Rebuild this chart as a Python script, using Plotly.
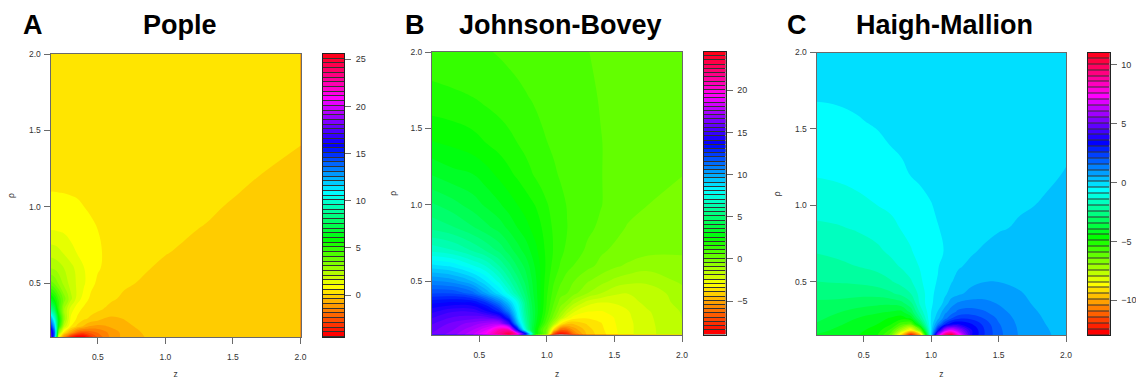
import colorsys
import plotly.graph_objects as go

W, H = 1136, 379

# ---------- Panel A: Pople ----------
pople_z = [.15, .18, .21, .25, .3, .35, .4, .45, .5, .55, .6, .7, .85, 1.0, 1.3, 1.6, 2.0]
pople_rho = [.15, .18, .22, .27, .33, .4, .5, .6, .7, .85, 1.0, 1.1, 1.2, 1.4, 1.7, 2.0]
pople_values = [
    [19, 13, .8, -1.5, -3.5, -4.4, -4.4, -3.2, -2.4, -1.8, -1.3, -.75, -.44, -.33, -.3, -.3, -.3],
    [17.5, 14, 3, .3, -1.0, -2.2, -2.5, -2.2, -1.9, -1.6, -1.25, -.75, -.38, -.33, -.33, -.33, -.33],
    [15.5, 12, 5.5, 2, .55, -.1, -.55, -1.0, -1.1, -1.0, -.85, -.55, -.32, -.33, -.35, -.36, -.35],
    [13, 10, 6, 2.9, .95, .45, .12, -.05, -.2, -.48, -.55, -.43, -.36, -.37, -.39, -.38, -.36],
    [9, 7.5, 4.8, 2.6, 1.3, .72, .4, .22, .12, .02, -.12, -.22, -.3, -.33, -.38, -.38, -.35],
    [6.2, 5.5, 4.5, 3.3, 2.2, 1.3, .8, .42, .3, .22, .12, -.05, -.2, -.3, -.35, -.35, -.33],
    [3.8, 3.5, 3.0, 2.4, 1.85, 1.45, 1.1, .7, .45, .35, .28, .12, -.02, -.12, -.25, -.3, -.3],
    [2.55, 2.45, 2.3, 2.05, 1.75, 1.35, 1.05, .85, .6, .48, .4, .25, .09, -.05, -.18, -.25, -.25],
    [1.85, 1.8, 1.7, 1.5, 1.2, 1.02, .85, .72, .6, .52, .42, .3, .15, .07, -.12, -.18, -.2],
    [1.05, 1.04, 1.0, .97, .9, .82, .72, .62, .55, .48, .42, .33, .2, .12, .03, -.1, -.15],
    [.78, .76, .75, .72, .67, .62, .55, .5, .45, .4, .36, .29, .21, .15, .1, -.02, -.1],
    [.55, .55, .54, .53, .51, .49, .47, .44, .42, .39, .36, .3, .24, .19, .11, .04, -.05],
    [.46, .46, .46, .45, .44, .43, .42, .4, .38, .36, .34, .29, .24, .19, .13, .07, -.02],
    [.36, .36, .36, .36, .35, .35, .34, .33, .32, .31, .29, .27, .24, .2, .15, .11, .05],
    [.26, .26, .26, .26, .26, .26, .26, .25, .25, .25, .24, .23, .21, .19, .16, .12, .1],
    [.2, .2, .2, .2, .2, .2, .2, .2, .19, .19, .18, .17, .15, .14, .12, .1, .08],
]

# ---------- Panel B: Johnson-Bovey ----------
jb_z = [.15, .3, .45, .55, .65, .72, .78, .84, .88, .92, .96, 1.0, 1.05, 1.1, 1.15, 1.2, 1.3, 1.4, 1.5, 1.6, 1.75, 2.0]
jb_rho = [.15, .18, .22, .26, .3, .36, .42, .5, .6, .7, .85, 1.0, 1.2, 1.4, 1.7, 2.0]
jb_values = [
    [16.1, 16.8, 18, 19.5, 22, 24, 21, 15, 9, 2.5, 1.2, -.2, -7.5, -8.9, -8.2, -6.3, -4.3, -3.7, -3.1, -2.6, -2.1, -1.5],
    [15.9, 16.5, 17.5, 18.5, 21, 21, 14, 7.5, 4.6, 2.7, .8, -.1, -4, -6.5, -6.4, -5.3, -4.2, -3.6, -3.05, -2.6, -2.1, -1.49],
    [15.5, 16.2, 16.8, 17.3, 17.5, 15, 10, 6.4, 4.5, 3.1, 1.7, .5, -1.3, -3.4, -4.3, -4.4, -3.9, -3.5, -3.0, -2.6, -2.08, -1.47],
    [15, 15.6, 15.8, 15.8, 15, 12.5, 8.8, 6.0, 4.5, 3.3, 2.1, 1.0, -.2, -1.5, -2.6, -3.2, -3.4, -3.3, -2.95, -2.55, -2.05, -1.45],
    [14.4, 15, 15, 14.2, 12.8, 10.8, 8.3, 5.7, 4.4, 3.4, 2.3, 1.3, .2, -.8, -1.7, -2.4, -2.95, -3, -2.8, -2.5, -2.0, -1.42],
    [13.4, 13.6, 13.5, 12.5, 10.8, 9.2, 7.6, 5.4, 4.2, 3.3, 2.4, 1.5, .6, -.2, -.6, -1.3, -2.2, -2.45, -2.4, -2.2, -1.8, -1.3],
    [12, 12, 11.3, 10, 8.6, 7.3, 6.1, 4.9, 3.9, 3.2, 2.4, 1.6, .85, .25, .04, -.3, -.95, -1.45, -1.85, -1.95, -1.75, -1.2],
    [10.6, 10.3, 9.5, 8.5, 7.3, 6.2, 5.3, 4.4, 3.7, 3.1, 2.4, 1.75, 1.1, .65, .25, .05, -.4, -.75, -1.1, -1.3, -1.35, -.85],
    [8.7, 8.4, 7.6, 7.0, 6.0, 5.2, 4.5, 3.9, 3.4, 2.9, 2.4, 1.9, 1.35, 1.0, .75, .52, .2, -.1, -.35, -.55, -.75, -.55],
    [6.9, 6.6, 6, 5.5, 4.9, 4.3, 3.8, 3.35, 3.0, 2.65, 2.25, 1.9, 1.5, 1.15, .95, .78, .45, .12, -.05, -.15, -.32, -.42],
    [5.4, 5.1, 4.6, 4.2, 3.8, 3.4, 3.05, 2.75, 2.5, 2.3, 2.05, 1.8, 1.45, 1.2, 1.05, .88, .65, .45, .2, .0, -.12, -.3],
    [4.6, 4.25, 3.8, 3.45, 3.1, 2.8, 2.55, 2.3, 2.15, 2.0, 1.78, 1.58, 1.35, 1.15, 1.02, .9, .72, .56, .35, .2, .04, -.2],
    [3.5, 3.2, 3.05, 2.75, 2.4, 2.15, 1.95, 1.75, 1.6, 1.45, 1.32, 1.2, 1.1, 1.0, .9, .8, .66, .55, .45, .35, .22, .06],
    [2.6, 2.45, 2.25, 2.05, 1.85, 1.7, 1.55, 1.4, 1.3, 1.2, 1.12, 1.05, .98, .9, .82, .75, .65, .55, .46, .38, .28, .16],
    [1.68, 1.62, 1.55, 1.42, 1.3, 1.2, 1.13, 1.07, 1.03, .98, .93, .9, .84, .78, .73, .68, .6, .52, .46, .4, .32, .22],
    [1.3, 1.25, 1.15, 1.08, 1.0, .95, .92, .88, .85, .82, .8, .78, .72, .68, .64, .6, .55, .48, .42, .38, .32, .25],
]

# ---------- Panel C: Haigh-Mallion ----------
hm_z = [.15, .3, .45, .6, .7, .78, .85, .92, 1.0, 1.05, 1.1, 1.15, 1.2, 1.3, 1.4, 1.5, 1.65, 1.85, 2.0]
hm_rho = [.15, .18, .22, .26, .3, .36, .42, .5, .6, .7, .85, 1.0, 1.2, 1.4, 1.55, 1.7, 2.0]
hm_values = [
    [-4.0, -4.2, -4.4, -4.9, -6.2, -9.5, -12.5, -10, -.2, 6, 9.5, 10.8, 8, 3.6, 2.5, 1.7, 1.02, .6, .42],
    [-3.78, -4.05, -4.3, -4.7, -5.6, -7.5, -9.0, -6.5, -.3, 3.0, 6, 7, 6, 3.6, 2.5, 1.68, 1.0, .58, .42],
    [-3.5, -3.85, -4.15, -4.45, -4.9, -5.8, -6.2, -3.6, -.35, 1.2, 2.6, 3.4, 3.6, 3.1, 2.35, 1.6, .95, .55, .4],
    [-3.33, -3.6, -3.95, -4.25, -4.5, -4.7, -4.3, -2.4, -.4, .4, 1.3, 2.0, 2.4, 2.4, 2.0, 1.45, .88, .5, .37],
    [-3.2, -3.4, -3.65, -3.85, -4.0, -4.1, -3.3, -1.8, -.45, .1, .9, 1.3, 1.7, 1.8, 1.6, 1.25, .8, .45, .33],
    [-3.0, -3.05, -3.2, -3.3, -3.3, -3.1, -2.55, -1.3, -.5, -.3, .2, .85, 1.1, 1.25, 1.2, 1.0, .68, .38, .26],
    [-2.85, -2.8, -2.8, -2.75, -2.55, -2.3, -1.95, -1.25, -.55, -.3, -.05, .25, .45, .72, .8, .78, .6, .33, .22],
    [-2.45, -2.4, -2.35, -2.2, -2.0, -1.75, -1.5, -1.05, -.52, -.43, -.12, .02, .2, .42, .54, .54, .45, .26, .18],
    [-2.1, -2.05, -1.95, -1.8, -1.6, -1.4, -1.2, -.9, -.54, -.47, -.33, -.1, .0, .15, .3, .36, .33, .2, .14],
    [-1.92, -1.85, -1.72, -1.55, -1.35, -1.15, -.98, -.78, -.57, -.5, -.44, -.3, -.15, .0, .12, .18, .2, .15, .1],
    [-1.55, -1.5, -1.4, -1.25, -1.1, -.92, -.82, -.68, -.5, -.46, -.41, -.36, -.3, -.18, -.08, .02, .08, .1, .09],
    [-1.25, -1.2, -1.08, -.95, -.85, -.76, -.66, -.52, -.46, -.41, -.36, -.3, -.25, -.16, -.1, -.05, .02, .07, .08],
    [-.92, -.87, -.8, -.7, -.62, -.5, -.44, -.41, -.37, -.33, -.3, -.26, -.22, -.16, -.11, -.06, -.02, .02, .06],
    [-.7, -.67, -.6, -.5, -.44, -.41, -.38, -.35, -.32, -.29, -.26, -.23, -.2, -.15, -.11, -.08, -.04, -.02, .02],
    [-.56, -.52, -.47, -.42, -.39, -.37, -.35, -.33, -.3, -.27, -.24, -.21, -.19, -.15, -.12, -.09, -.05, -.03, .0],
    [-.43, -.42, -.4, -.37, -.35, -.33, -.31, -.29, -.26, -.24, -.22, -.2, -.18, -.15, -.12, -.1, -.07, -.05, -.03],
    [-.3, -.3, -.28, -.27, -.26, -.25, -.24, -.22, -.2, -.19, -.18, -.17, -.16, -.14, -.12, -.1, -.08, -.06, -.05],
]

# ---------- Labels and ticks ----------
panel_names = ["Pople", "Johnson-Bovey", "Haigh-Mallion"]
panel_letters = ["A", "B", "C"]
axis_ticks = [0.5, 1.0, 1.5, 2.0]
colorbar_ticks = [[0, 5, 10, 15, 20, 25], [-5, 0, 5, 10, 15, 20], [-10, -5, 0, 5, 10]]
colorbar_low = [-4.45, -8.96, -12.95]
colorbar_bands = [60, 67, 48]
BAND = 0.5

# ---------- Layout in pixels ----------
plot_boxes = [(50.5, 300.5, 54, 337), (432, 682, 52, 334.5), (816.5, 1066, 52.5, 335)]
bar_boxes = [(322.5, 344, 54, 337), (704, 725.5, 52, 334.5), (1088, 1109.5, 52.5, 335)]
letter_x = [21, 403, 785]
title_x = [180, 560, 944]
FONT = "Liberation Sans, Arial, sans-serif"
GREY = "#6a6a6a"
TXT = "#333333"


def dom_x(a, b):
    return [a / W, b / W]


def dom_y(top, bottom):
    return [1 - bottom / H, 1 - top / H]


def rainbow_scale(n):
    stops = []
    for b in range(n):
        r, g, bl = colorsys.hsv_to_rgb(b / n, 1, 1)
        stops.append([b / (n - 1), f"rgb({round(r*255)},{round(g*255)},{round(bl*255)})"])
    return stops


fig = go.Figure()
layout = {}
data_sets = [(pople_z, pople_rho, pople_values), (jb_z, jb_rho, jb_values), (hm_z, hm_rho, hm_values)]

for i, (xs, ys, vals) in enumerate(data_sets):
    n = colorbar_bands[i]
    low = colorbar_low[i]
    high = low + n * BAND
    scale = rainbow_scale(n)
    ax = 2 * i + 1
    bx = 2 * i + 2
    fig.add_trace(go.Contour(
        x=xs, y=ys, z=vals, xaxis=f"x{ax}", yaxis=f"y{ax}",
        colorscale=scale, showscale=False, autocontour=False,
        contours=dict(start=low + BAND, end=high - BAND, size=BAND, coloring="fill", showlines=False),
        line=dict(width=0, smoothing=1.2), hoverinfo="skip",
    ))
    mids = [low + (k + .5) * BAND for k in range(n)]
    fig.add_trace(go.Heatmap(
        x=[0], y=mids, z=[[m] for m in mids], xaxis=f"x{bx}", yaxis=f"y{bx}",
        colorscale=scale, zmin=mids[0], zmax=mids[-1], showscale=False, ygap=1, hoverinfo="skip",
    ))
    x0, x1, y0, y1 = plot_boxes[i]
    common = dict(showgrid=False, zeroline=False, showline=True, linecolor=GREY, linewidth=1, mirror=True,
                  ticks="outside", ticklen=6, tickwidth=1, tickcolor=GREY, tickmode="array",
                  tickvals=axis_ticks, tickformat=".1f", range=[.15, 2.0], automargin=False,
                  tickfont=dict(family=FONT, size=8.5, color=TXT))
    layout[f"xaxis{ax}"] = dict(common, domain=dom_x(x0, x1), anchor=f"y{ax}", ticklabelstandoff=6,
                                title=dict(text="z", standoff=13, font=dict(family=FONT, size=8.5, color=TXT)))
    layout[f"yaxis{ax}"] = dict(common, domain=dom_y(y0, y1), anchor=f"x{ax}", ticklabelstandoff=1,
                                title=dict(text="ρ", standoff=12, font=dict(family=FONT, size=8.5, color=TXT)))
    a0, a1, b0, b1 = bar_boxes[i]
    layout[f"xaxis{bx}"] = dict(domain=dom_x(a0, a1), anchor=f"y{bx}", showticklabels=False, ticks="",
                                showgrid=False, zeroline=False, showline=True, linecolor="#222", mirror=True,
                                range=[-.5, .5], automargin=False)
    layout[f"yaxis{bx}"] = dict(domain=dom_y(b0, b1), anchor=f"x{bx}", side="right", range=[low, high],
                                tickmode="array", tickvals=colorbar_ticks[i], ticks="outside", ticklen=6,
                                tickcolor=GREY, showgrid=False, zeroline=False, showline=True, linecolor="#222",
                                mirror=True, tickfont=dict(family=FONT, size=9, color=TXT), ticklabelstandoff=3,
                                automargin=False)

annotations = []
for i in range(3):
    annotations.append(dict(text=f"<b>{panel_letters[i]}</b>", x=letter_x[i] / W, y=1 - 25 / H, xref="paper", yref="paper",
                            xanchor="left", yanchor="middle", showarrow=False,
                            font=dict(family=FONT, size=27, color="black")))
    annotations.append(dict(text=f"<b>{panel_names[i]}</b>", x=title_x[i] / W, y=1 - 25 / H, xref="paper", yref="paper",
                            xanchor="center", yanchor="middle", showarrow=False,
                            font=dict(family=FONT, size=27, color="black")))

fig.update_layout(width=W, height=H, margin=dict(l=0, r=0, t=0, b=0, autoexpand=False), paper_bgcolor="white",
                  plot_bgcolor="#333333", showlegend=False, annotations=annotations, **layout)
fig.write_html("out.html", config={"displayModeBar": False},
               post_script="document.body.style.margin='0';document.body.style.overflow='hidden';")
